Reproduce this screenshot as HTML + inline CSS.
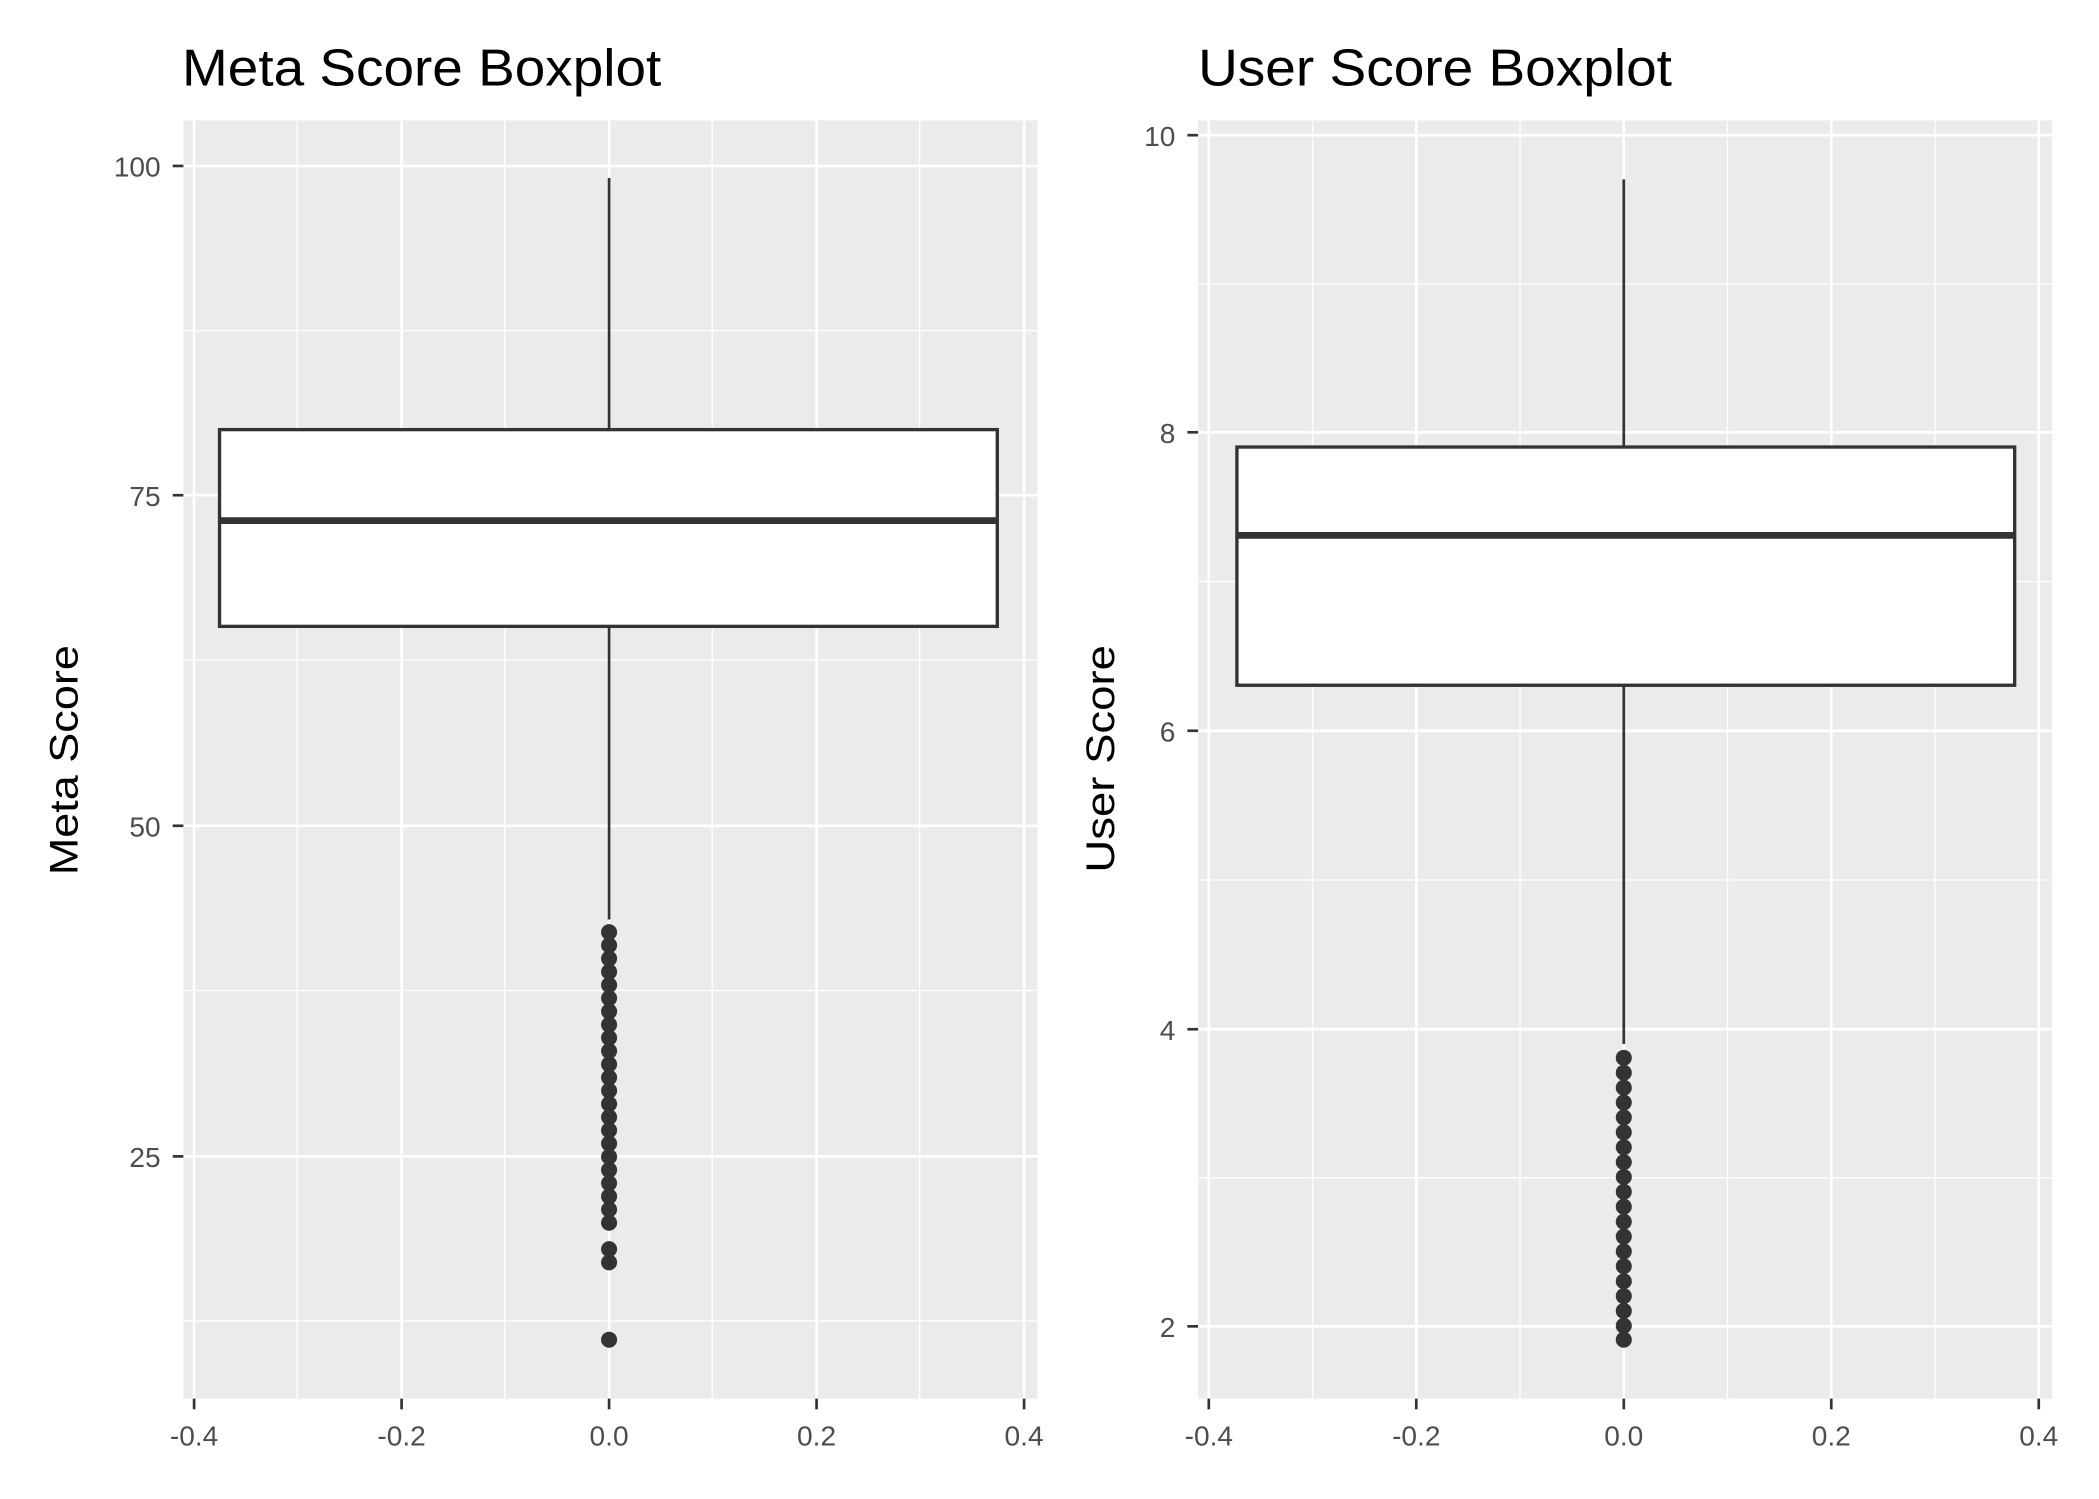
<!DOCTYPE html>
<html><head><meta charset="utf-8"><style>
html,body{margin:0;padding:0;background:#fff;}
svg{display:block;}
text{font-family:"Liberation Sans",sans-serif;}
</style></head><body>
<svg width="2099" height="1499" viewBox="0 0 1568 1120" preserveAspectRatio="none" xmlns="http://www.w3.org/2000/svg">
<rect width="1568" height="1120" fill="#fff"/>
<!-- LEFT PANEL -->
<text x="136" y="64" font-size="39" fill="#000" textLength="358" lengthAdjust="spacingAndGlyphs">Meta Score Boxplot</text>
<rect x="137" y="90" width="638" height="955" fill="#EBEBEB"/>
<g stroke="#fff" stroke-width="1">
<line x1="137" x2="775" y1="247" y2="247"/><line x1="137" x2="775" y1="493" y2="493"/>
<line x1="137" x2="775" y1="740" y2="740"/><line x1="137" x2="775" y1="987" y2="987"/>
<line y1="90" y2="1045" x1="222" x2="222"/><line y1="90" y2="1045" x1="377" x2="377"/>
<line y1="90" y2="1045" x1="532" x2="532"/><line y1="90" y2="1045" x1="687" x2="687"/>
</g>
<g stroke="#fff" stroke-width="2">
<line x1="137" x2="775" y1="124" y2="124"/><line x1="137" x2="775" y1="370" y2="370"/>
<line x1="137" x2="775" y1="617" y2="617"/><line x1="137" x2="775" y1="864" y2="864"/>
<line y1="90" y2="1045" x1="145" x2="145"/><line y1="90" y2="1045" x1="300" x2="300"/>
<line y1="90" y2="1045" x1="455" x2="455"/><line y1="90" y2="1045" x1="610" x2="610"/>
<line y1="90" y2="1045" x1="765" x2="765"/>
</g>
<g stroke="#333" stroke-width="2">
<line x1="129" x2="137" y1="124" y2="124"/><line x1="129" x2="137" y1="370" y2="370"/>
<line x1="129" x2="137" y1="617" y2="617"/><line x1="129" x2="137" y1="864" y2="864"/>
<line y1="1045" y2="1053" x1="145" x2="145"/><line y1="1045" y2="1053" x1="300" x2="300"/>
<line y1="1045" y2="1053" x1="455" x2="455"/><line y1="1045" y2="1053" x1="610" x2="610"/>
<line y1="1045" y2="1053" x1="765" x2="765"/>
</g>
<g font-size="21" fill="#4D4D4D" text-anchor="end">
<text x="120" y="132">100</text><text x="120" y="378">75</text><text x="120" y="625">50</text><text x="120" y="872">25</text>
</g>
<g font-size="21" fill="#4D4D4D" text-anchor="middle">
<text x="145" y="1080">-0.4</text><text x="300" y="1080">-0.2</text><text x="455" y="1080">0.0</text><text x="610" y="1080">0.2</text><text x="765" y="1080">0.4</text>
</g>
<text transform="translate(58,568) rotate(-90)" font-size="30" text-anchor="middle" fill="#000" textLength="172" lengthAdjust="spacingAndGlyphs">Meta Score</text>
<g stroke="#333" stroke-width="2">
<line x1="455" x2="455" y1="133" y2="321"/><line x1="455" x2="455" y1="468" y2="687"/>
</g>
<rect x="164" y="321" width="581" height="147" fill="#fff" stroke="#333" stroke-width="2.5"/>
<line x1="164" x2="745" y1="389" y2="389" stroke="#333" stroke-width="5"/>
<g fill="#333">
<circle cx="455" cy="696.5" r="6"/><circle cx="455" cy="706.3" r="6"/><circle cx="455" cy="716.2" r="6"/><circle cx="455" cy="726.1" r="6"/><circle cx="455" cy="736" r="6"/><circle cx="455" cy="745.8" r="6"/><circle cx="455" cy="755.7" r="6"/><circle cx="455" cy="765.6" r="6"/><circle cx="455" cy="775.4" r="6"/><circle cx="455" cy="785.3" r="6"/><circle cx="455" cy="795.2" r="6"/><circle cx="455" cy="805.1" r="6"/><circle cx="455" cy="814.9" r="6"/><circle cx="455" cy="824.8" r="6"/><circle cx="455" cy="834.7" r="6"/><circle cx="455" cy="844.5" r="6"/><circle cx="455" cy="854.4" r="6"/><circle cx="455" cy="864.3" r="6"/><circle cx="455" cy="874.1" r="6"/><circle cx="455" cy="884" r="6"/><circle cx="455" cy="893.9" r="6"/><circle cx="455" cy="903.7" r="6"/><circle cx="455" cy="913.6" r="6"/><circle cx="455" cy="933.3" r="6"/><circle cx="455" cy="943.2" r="6"/><circle cx="455" cy="1001" r="6"/>
</g>
<!-- RIGHT PANEL -->
<text x="895" y="64" font-size="39" fill="#000" textLength="354" lengthAdjust="spacingAndGlyphs">User Score Boxplot</text>
<rect x="895" y="90" width="638" height="955" fill="#EBEBEB"/>
<g stroke="#fff" stroke-width="1">
<line x1="895" x2="1533" y1="212" y2="212"/><line x1="895" x2="1533" y1="434.5" y2="434.5"/>
<line x1="895" x2="1533" y1="657.5" y2="657.5"/><line x1="895" x2="1533" y1="880" y2="880"/>
<line y1="90" y2="1045" x1="980.5" x2="980.5"/><line y1="90" y2="1045" x1="1135.5" x2="1135.5"/>
<line y1="90" y2="1045" x1="1290.5" x2="1290.5"/><line y1="90" y2="1045" x1="1445.5" x2="1445.5"/>
</g>
<g stroke="#fff" stroke-width="2">
<line x1="895" x2="1533" y1="101" y2="101"/><line x1="895" x2="1533" y1="323" y2="323"/>
<line x1="895" x2="1533" y1="546" y2="546"/><line x1="895" x2="1533" y1="769" y2="769"/>
<line x1="895" x2="1533" y1="991" y2="991"/>
<line y1="90" y2="1045" x1="903" x2="903"/><line y1="90" y2="1045" x1="1058" x2="1058"/>
<line y1="90" y2="1045" x1="1213" x2="1213"/><line y1="90" y2="1045" x1="1368" x2="1368"/>
<line y1="90" y2="1045" x1="1523" x2="1523"/>
</g>
<g stroke="#333" stroke-width="2">
<line x1="887" x2="895" y1="101" y2="101"/><line x1="887" x2="895" y1="323" y2="323"/>
<line x1="887" x2="895" y1="546" y2="546"/><line x1="887" x2="895" y1="769" y2="769"/>
<line x1="887" x2="895" y1="991" y2="991"/>
<line y1="1045" y2="1053" x1="903" x2="903"/><line y1="1045" y2="1053" x1="1058" x2="1058"/>
<line y1="1045" y2="1053" x1="1213" x2="1213"/><line y1="1045" y2="1053" x1="1368" x2="1368"/>
<line y1="1045" y2="1053" x1="1523" x2="1523"/>
</g>
<g font-size="21" fill="#4D4D4D" text-anchor="end">
<text x="878" y="109">10</text><text x="878" y="331">8</text><text x="878" y="554">6</text><text x="878" y="777">4</text><text x="878" y="999">2</text>
</g>
<g font-size="21" fill="#4D4D4D" text-anchor="middle">
<text x="903" y="1080">-0.4</text><text x="1058" y="1080">-0.2</text><text x="1213" y="1080">0.0</text><text x="1368" y="1080">0.2</text><text x="1523" y="1080">0.4</text>
</g>
<text transform="translate(832,567) rotate(-90)" font-size="30" text-anchor="middle" fill="#000" textLength="170" lengthAdjust="spacingAndGlyphs">User Score</text>
<g stroke="#333" stroke-width="2">
<line x1="1213" x2="1213" y1="134" y2="334"/><line x1="1213" x2="1213" y1="512" y2="780"/>
</g>
<rect x="924" y="334" width="581" height="178" fill="#fff" stroke="#333" stroke-width="2.5"/>
<line x1="924" x2="1505" y1="400" y2="400" stroke="#333" stroke-width="5"/>
<g fill="#333">
<circle cx="1213" cy="790.4" r="6"/><circle cx="1213" cy="801.5" r="6"/><circle cx="1213" cy="812.7" r="6"/><circle cx="1213" cy="823.8" r="6"/><circle cx="1213" cy="834.9" r="6"/><circle cx="1213" cy="846" r="6"/><circle cx="1213" cy="857.2" r="6"/><circle cx="1213" cy="868.3" r="6"/><circle cx="1213" cy="879.4" r="6"/><circle cx="1213" cy="890.5" r="6"/><circle cx="1213" cy="901.6" r="6"/><circle cx="1213" cy="912.8" r="6"/><circle cx="1213" cy="923.9" r="6"/><circle cx="1213" cy="935" r="6"/><circle cx="1213" cy="946.1" r="6"/><circle cx="1213" cy="957.3" r="6"/><circle cx="1213" cy="968.4" r="6"/><circle cx="1213" cy="979.5" r="6"/><circle cx="1213" cy="990.6" r="6"/><circle cx="1213" cy="1001" r="6"/>
</g>
</svg>
</body></html>
